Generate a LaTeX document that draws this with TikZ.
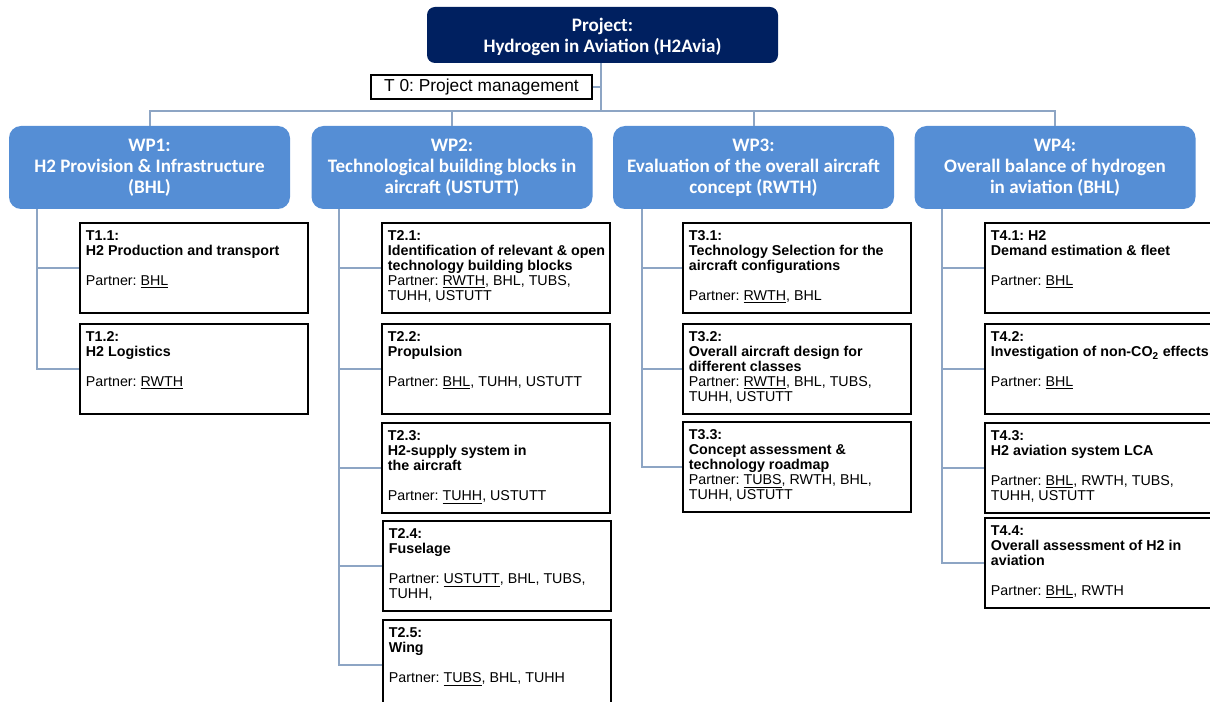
\documentclass[tikz,border=0pt]{standalone}
\usepackage{fontspec}
\setmainfont{Liberation Sans}
\newfontfamily\calibri{Carlito}
\usetikzlibrary{positioning}
\frenchspacing

\definecolor{projblue}{RGB}{0,32,96}
\definecolor{wpblue}{RGB}{85,142,213}
\definecolor{linkgrey}{RGB}{141,165,196}

\tikzset{
  project/.style={fill=projblue, rounded corners=6pt, text=white, align=center,
    font=\calibri\bfseries\fontsize{14.3}{15.5}\selectfont, text depth=0pt,
    minimum width=263.25pt, minimum height=42pt},
  wp/.style={fill=wpblue, rounded corners=9pt, text=white, align=center,
    font=\calibri\bfseries\fontsize{14.3}{15.75}\selectfont,
    minimum width=210.75pt, minimum height=62.25pt},
  mgmt/.style={draw, line width=1.5pt, minimum width=165.75pt, minimum height=18pt,
    inner sep=0pt, font=\fontsize{13}{15}\selectfont},
  task/.style={draw, line width=1.5pt, anchor=north west, minimum width=171pt,
    minimum height=67.5pt, inner sep=0pt},
  tasktext/.style={anchor=north west, align=left, inner xsep=5pt, inner ysep=6.5pt,
    font=\fontsize{10.7}{11.25}\selectfont},
  link/.style={draw=linkgrey, line width=1.5pt},
}

\begin{document}
\begin{tikzpicture}[x=0.75pt,y=-0.75pt]
	\useasboundingbox (0,0) rectangle (1210,702);
	\clip (0,0) rectangle (1210,702);

	% projet et T0
	\node[project] (proj) at (602.5,35) {Project:\\Hydrogen in Aviation (H2Avia)};
	\node[mgmt] (t0) at (481.5,87) {T 0: Project management};

	% work packages
	\node[wp] (wp1) at (149.5,167.5) {WP1:\\H2 Provision \& Infrastructure\\(BHL)};
	\node[wp] (wp2) at (452,167.5) {WP2:\\Technological building blocks in\\aircraft (USTUTT)};
	\node[wp] (wp3) at (753.5,167.5) {WP3:\\Evaluation of the overall aircraft\\concept (RWTH)};
	\node[wp] (wp4) at (1055,167.5) {WP4:\\Overall balance of hydrogen\\in aviation (BHL)};

	% liaisons haut
	\coordinate (bus) at (601,111);
	\draw[link] (proj.south -| bus) -- (bus);
	\draw[link] (t0.east) -- (t0.east -| bus);
	\draw[link] (wp1.north) -- (wp1.north |- bus) -- (wp4.north |- bus) -- (wp4.north);
	\draw[link] (wp2.north) -- (wp2.north |- bus);
	\draw[link] (wp3.north) -- (wp3.north |- bus);

	% taches WP1
	\node[task] (t11) at (79,222) {};
	\node[tasktext] (t11txt) at (t11.north west) {\textbf{T1.1:}\\\textbf{H2 Production and transport}\\[11.25pt]Partner: \underline{BHL}};
	\node[task] (t12) at (79,323) {};
	\node[tasktext] (t12txt) at (t12.north west) {\textbf{T1.2:}\\\textbf{H2 Logistics}\\[11.25pt]Partner: \underline{RWTH}};

	% taches WP2
	\node[task] (t21) at (381,222) {};
	\node[tasktext] (t21txt) at (t21.north west) {\textbf{T2.1:}\\\textbf{Identification of relevant \& open}\\\textbf{technology building blocks}\\Partner: \underline{RWTH}, BHL, TUBS,\\TUHH, USTUTT};
	\node[task] (t22) at (381,323) {};
	\node[tasktext] (t22txt) at (t22.north west) {\textbf{T2.2:}\\\textbf{Propulsion}\\[11.25pt]Partner: \underline{BHL}, TUHH, USTUTT};
	\node[task] (t23) at (381,422) {};
	\node[tasktext] (t23txt) at (t23.north west) {\textbf{T2.3:}\\\textbf{H2-supply system in}\\\textbf{the aircraft}\\[11.25pt]Partner: \underline{TUHH}, USTUTT};
	\node[task] (t24) at (382,520) {};
	\node[tasktext] (t24txt) at (t24.north west) {\textbf{T2.4:}\\\textbf{Fuselage}\\[11.25pt]Partner: \underline{USTUTT}, BHL, TUBS,\\TUHH,};
	\node[task] (t25) at (382,619) {};
	\node[tasktext] (t25txt) at (t25.north west) {\textbf{T2.5:}\\\textbf{Wing}\\[11.25pt]Partner: \underline{TUBS}, BHL, TUHH};

	% taches WP3
	\node[task] (t31) at (682,222) {};
	\node[tasktext] (t31txt) at (t31.north west) {\textbf{T3.1:}\\\textbf{Technology Selection for the}\\\textbf{aircraft configurations}\\[11.25pt]Partner: \underline{RWTH}, BHL};
	\node[task] (t32) at (682,323) {};
	\node[tasktext] (t32txt) at (t32.north west) {\textbf{T3.2:}\\\textbf{Overall aircraft design for}\\\textbf{different classes}\\Partner: \underline{RWTH}, BHL, TUBS,\\TUHH, USTUTT};
	\node[task] (t33) at (682,421) {};
	\node[tasktext] (t33txt) at (t33.north west) {\textbf{T3.3:}\\\textbf{Concept assessment \&}\\\textbf{technology roadmap}\\Partner: \underline{TUBS}, RWTH, BHL,\\TUHH, USTUTT};

	% taches WP4
	\node[task] (t41) at (984,222) {};
	\node[tasktext] (t41txt) at (t41.north west) {\textbf{T4.1: H2}\\\textbf{Demand estimation \& fleet}\\[11.25pt]Partner: \underline{BHL}};
	\node[task] (t42) at (984,323) {};
	\node[tasktext] (t42txt) at (t42.north west) {\textbf{T4.2:}\\\textbf{Investigation of non-CO\textsubscript{2} effects}\\[11.25pt]Partner: \underline{BHL}};
	\node[task] (t43) at (984,422) {};
	\node[tasktext] (t43txt) at (t43.north west) {\textbf{T4.3:}\\\textbf{H2 aviation system LCA}\\[11.25pt]Partner: \underline{BHL}, RWTH, TUBS,\\TUHH, USTUTT};
	\node[task] (t44) at (984,517) {};
	\node[tasktext] (t44txt) at (t44.north west) {\textbf{T4.4:}\\\textbf{Overall assessment of H2 in}\\\textbf{aviation}\\[11.25pt]Partner: \underline{BHL}, RWTH};

	% liaisons vers les taches
	\coordinate (s1) at (37,209);
	\coordinate (s2) at (339,209);
	\coordinate (s3) at (642,209);
	\coordinate (s4) at (942,209);
	\draw[link] (s1) |- (t11.west);
	\draw[link] (s1) |- (t12.west);
	\draw[link] (s2) |- (t21.west);
	\draw[link] (s2) |- (t22.west);
	\draw[link] (s2) |- (t23.west);
	\draw[link] (s2) |- (t24.west);
	\draw[link] (s2) |- (t25.west);
	\draw[link] (s3) |- (t31.west);
	\draw[link] (s3) |- (t32.west);
	\draw[link] (s3) |- (t33.west);
	\draw[link] (s4) |- (t41.west);
	\draw[link] (s4) |- (t42.west);
	\draw[link] (s4) |- (t43.west);
	\draw[link] (s4) |- (t44.west);
\end{tikzpicture}
\end{document}
